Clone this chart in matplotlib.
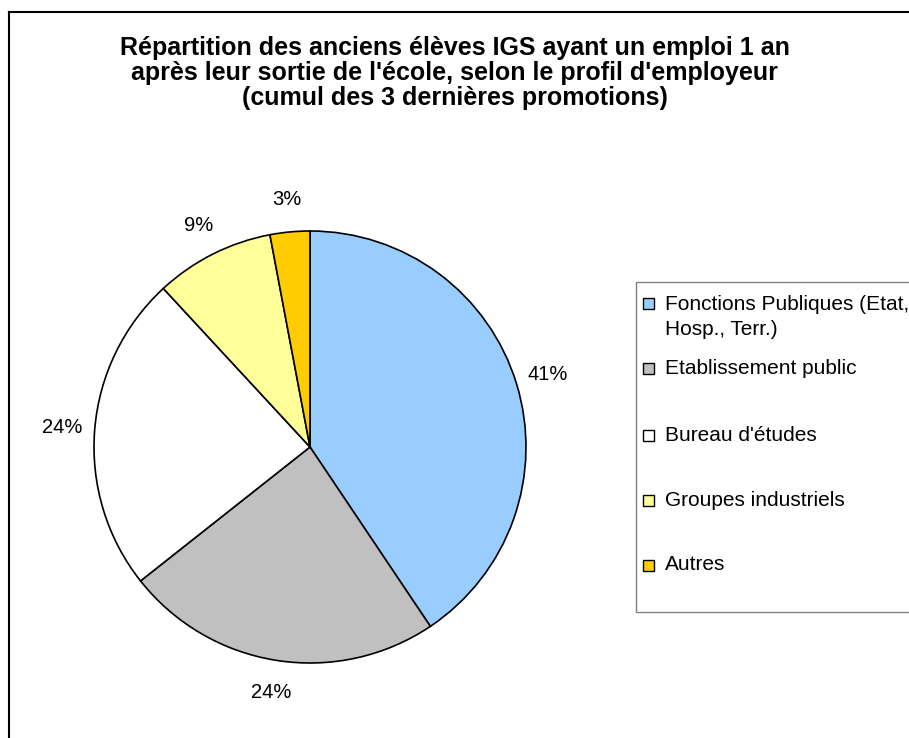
import matplotlib
matplotlib.use("Agg")
import matplotlib.pyplot as plt
from matplotlib.patches import Rectangle
from matplotlib.lines import Line2D

plt.rcParams['font.family'] = ['Liberation Sans', 'DejaVu Sans']

# data
categories = ["Fonctions Publiques (Etat,\nHosp., Terr.)", "Etablissement public",
              "Bureau d'études", "Groupes industriels", "Autres"]
shares = [41, 24, 24, 9, 3]
colors = ['#99CCFF', '#C0C0C0', '#FFFFFF', '#FFFF99', '#FFCC00']
title = ("Répartition des anciens élèves IGS ayant un emploi 1 an\n"
         "après leur sortie de l'école, selon le profil d'employeur\n"
         "(cumul des 3 dernières promotions)")

W, H = 909, 738
fig = plt.figure(figsize=(W / 100, H / 100), dpi=100)


def fx(x):
    return x / W


def fy(y):
    return 1 - y / H


# pie placed by its centre and radius in pixels
cx, cy, r = 310, 447, 216
ax = fig.add_axes([fx(cx - r), fy(cy + r), 2 * r / W, 2 * r / H])
wedges, texts, autotexts = ax.pie(
    shares, colors=colors, startangle=90, counterclock=False,
    autopct='%.0f%%', pctdistance=1.15,
    wedgeprops=dict(edgecolor='black', linewidth=1.2),
    textprops=dict(fontsize=14.5, color='black'))
ax.set_xlim(-1, 1)
ax.set_ylim(-1, 1)
ax.set_aspect('auto')

fig.text(0.5, fy(73), title, ha='center', va='center', fontsize=18,
         fontweight='bold', linespacing=1.07)

# legend drawn by hand, like the spreadsheet one
fig.add_artist(Rectangle((fx(636), fy(612)), fx(W - 636 + 5), fy(282) - fy(612),
                         transform=fig.transFigure, facecolor='white',
                         edgecolor='#808080', linewidth=1))
rows = [317, 368, 435, 500, 565]
for lab, col, yc in zip(categories, colors, rows):
    ysq = 303 if '\n' in lab else yc
    fig.add_artist(Rectangle((fx(643), fy(ysq + 5.5)), fx(11), fy(ysq - 5.5) - fy(ysq + 5.5),
                             transform=fig.transFigure, facecolor=col,
                             edgecolor='black', linewidth=1))
    fig.text(fx(665), fy(yc), lab, ha='left', va='center', fontsize=15,
             linespacing=1.45)

# outer chart frame (only top and left edges are visible)
fig.add_artist(Line2D([fx(9), fx(9)], [0, fy(12)], transform=fig.transFigure,
                      color='black', linewidth=1.5))
fig.add_artist(Line2D([fx(9), 1], [fy(12), fy(12)], transform=fig.transFigure,
                      color='black', linewidth=1.5))

fig.savefig('out.png', dpi=100)
